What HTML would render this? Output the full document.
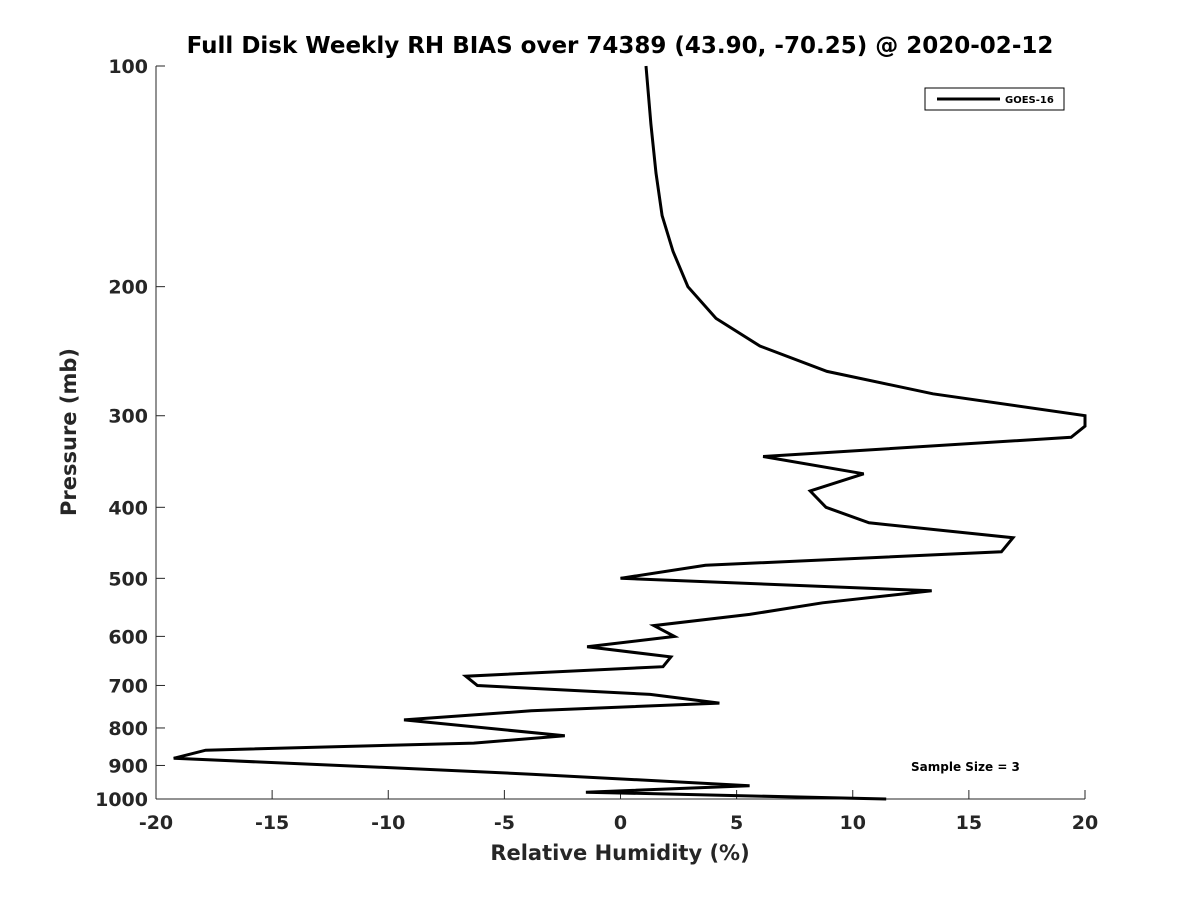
<!DOCTYPE html>
<html><head><meta charset="utf-8"><style>
body{margin:0;background:#fff;}
svg text{font-family:"DejaVu Sans","Liberation Sans",sans-serif;font-weight:bold;fill:#262626;}
</style></head><body>
<svg id="chart" width="1200" height="900" viewBox="0 0 1200 900" xmlns="http://www.w3.org/2000/svg">
<rect width="1200" height="900" fill="#fff"/>
<text x="620" y="53" text-anchor="middle" font-size="23" style="fill:#000">Full Disk Weekly RH BIAS over 74389 (43.90, -70.25) @ 2020-02-12</text>
<g id="axes"></g>
<path id="series" fill="none" stroke="#000" stroke-width="3" stroke-linejoin="miter"/>
<g>
<rect x="925" y="88" width="139" height="22" fill="#fff" stroke="#000" stroke-width="1"/>
<line x1="937" y1="99" x2="1000" y2="99" stroke="#000" stroke-width="3"/>
<text x="1005" y="103" font-size="10" style="fill:#000">GOES-16</text>
</g>
<text x="911" y="771" font-size="12" style="fill:#000">Sample Size = 3</text>
<text x="620" y="860" text-anchor="middle" font-size="21">Relative Humidity (%)</text>
<text transform="translate(76,432) rotate(-90)" text-anchor="middle" font-size="21">Pressure (mb)</text>
</svg>
<script>
const xTicks=[-20,-15,-10,-5,0,5,10,15,20];
const yTicks=[100,200,300,400,500,600,700,800,900,1000];
const rhBias=[1.1,1.31,1.53,1.79,2.26,2.9,4.11,6.0,8.89,13.45,20,20,19.4,6.14,10.47,8.17,8.85,10.7,16.9,16.4,3.66,0,13.4,8.7,5.56,1.44,2.32,-1.44,2.17,1.83,-6.66,-6.16,1.28,4.26,-3.84,-9.32,-2.4,-6.32,-17.86,-19.24,-10.37,-3.84,5.56,-1.49,11.44];
const pressure=[100,120,140,160,179,200,221,241,261,280,300,310,321,341,360,380,400,420,440,460,480,500,520,540,560,580,600,620,640,660,680,700,720,740,758,780,820,839,858,880,905,925,959,979,1000];
const L=156,R=1085,T=66,B=799;
function xs(v){return L+(v+20)/40*(R-L);}
function ys(p){return T+(Math.log10(p)-2)*(B-T);}
const ns="http://www.w3.org/2000/svg";
const ax=document.getElementById('axes');
function mk(t,a){const e=document.createElementNS(ns,t);for(const k in a)e.setAttribute(k,a[k]);ax.appendChild(e);return e;}
const xl=mk('line',{x1:L,y1:B,x2:R,y2:B,stroke:'#262626','stroke-width':1});


const yl=mk('line',{x1:L,y1:T,x2:L,y2:B,stroke:'#262626','stroke-width':1});


xTicks.forEach(v=>{const x=xs(v);
 mk('line',{x1:x,y1:B,x2:x,y2:B-9,stroke:'#262626'});
 const t=mk('text',{x:x,y:B+30,'text-anchor':'middle','font-size':19});t.textContent=v;
 
 });
yTicks.forEach(p=>{const y=ys(p);
 mk('line',{x1:L,y1:y,x2:L+9,y2:y,stroke:'#262626'});
 const t=mk('text',{x:L-8,y:y+7,'text-anchor':'end','font-size':19});t.textContent=p;
 
 });
document.getElementById('series').setAttribute('d',rhBias.map((v,i)=>(i?'L':'M')+xs(v).toFixed(1)+','+ys(pressure[i]).toFixed(1)).join(''));
</script>
</body></html>
